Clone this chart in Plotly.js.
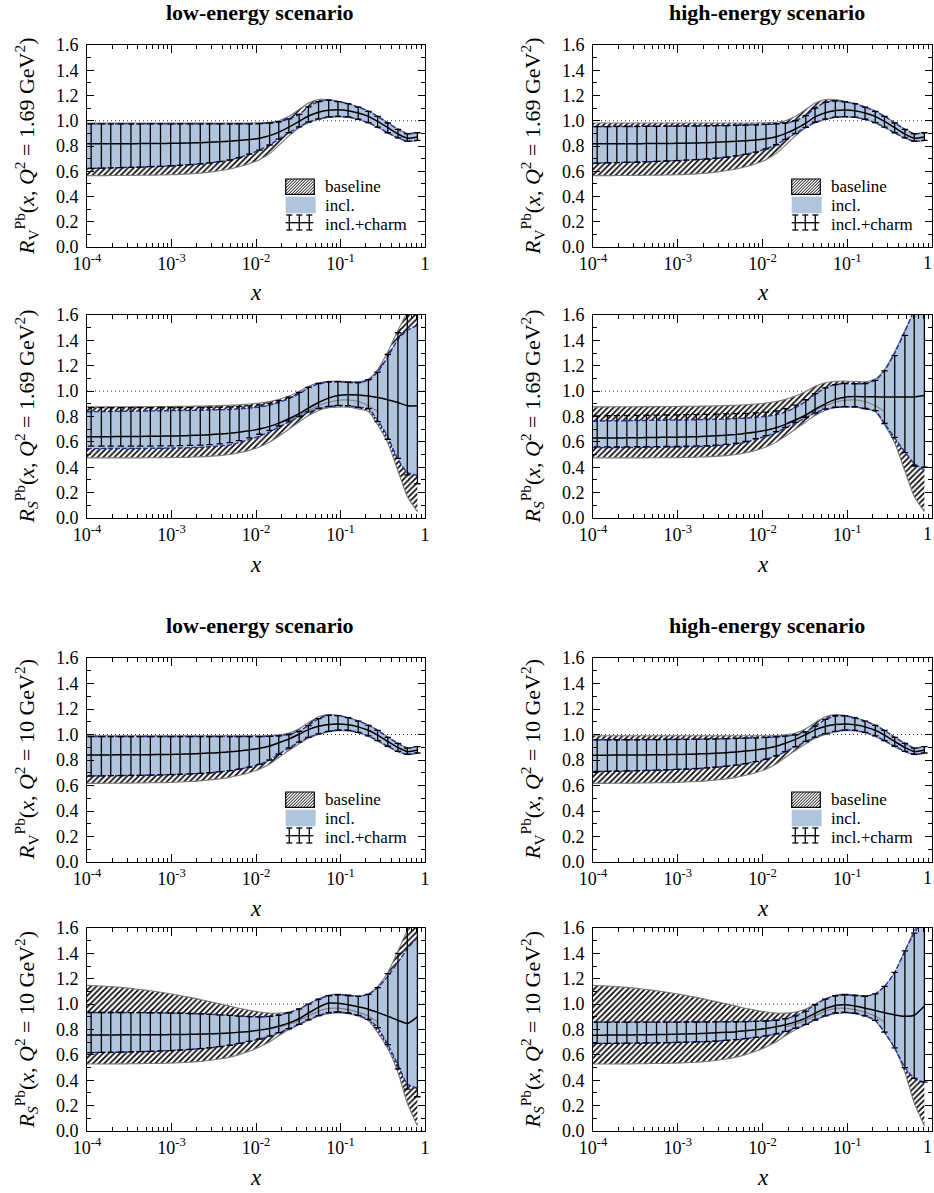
<!DOCTYPE html>
<html><head><meta charset="utf-8">
<script src="https://cdn.plot.ly/plotly-3.0.1.min.js"></script>
<style>html,body{margin:0;padding:0;background:#fff}#chart{width:934px;height:1193px}</style>
</head><body><div id="chart"></div>
<script>
// ---------------- DATA ----------------
const X = [1.00e-4,1.12e-4,1.48e-4,1.91e-4,2.51e-4,3.31e-4,4.27e-4,5.62e-4,7.41e-4,9.77e-4,1.26e-3,1.66e-3,2.19e-3,2.82e-3,3.72e-3,4.90e-3,6.31e-3,8.32e-3,1.10e-2,1.45e-2,1.86e-2,2.45e-2,3.24e-2,4.17e-2,5.50e-2,7.24e-2,9.33e-2,0.123,0.162,0.214,0.275,0.363,0.479,0.617,0.813];

const X_TICKS = [1e-4,1e-3,1e-2,1e-1,1];
const X_TICKTEXT = ['10<sup>-4</sup>','10<sup>-3</sup>','10<sup>-2</sup>','10<sup>-1</sup>','1'];
const X_TICKTEXT_RIGHT = ['10<sup>-4</sup>','10<sup>-3</sup>','10<sup>-2</sup>','10<sup>-1</sup>',''];
const TITLES = ['low-energy scenario','high-energy scenario'];
const LEGEND_LABELS = ['baseline','incl.','incl.+charm'];

// baseline bands
const V169_bLo = [0.565,0.565,0.565,0.566,0.566,0.567,0.568,0.569,0.570,0.572,0.575,0.579,0.585,0.593,0.604,0.618,0.636,0.660,0.692,0.740,0.805,0.880,0.945,0.985,1.010,1.026,1.031,1.027,1.010,0.983,0.948,0.903,0.863,0.836,0.843];
const V169_bHi = [0.982,0.982,0.982,0.982,0.982,0.982,0.982,0.982,0.982,0.982,0.982,0.982,0.982,0.982,0.982,0.982,0.982,0.982,0.984,0.988,1.000,1.035,1.090,1.140,1.168,1.168,1.155,1.137,1.110,1.077,1.037,0.984,0.934,0.899,0.907];
const V10_bLo = [0.617,0.617,0.617,0.618,0.618,0.619,0.620,0.621,0.622,0.624,0.627,0.631,0.636,0.643,0.652,0.664,0.680,0.700,0.728,0.768,0.820,0.875,0.928,0.970,1.000,1.020,1.030,1.028,1.012,0.985,0.948,0.904,0.864,0.841,0.851];
const V10_bHi = [0.990,0.990,0.990,0.990,0.990,0.990,0.990,0.990,0.990,0.990,0.990,0.990,0.990,0.990,0.990,0.990,0.990,0.990,0.990,0.992,0.997,1.012,1.045,1.095,1.140,1.156,1.150,1.134,1.107,1.074,1.034,0.980,0.932,0.895,0.907];
const S169_bLo = [0.474,0.474,0.474,0.474,0.474,0.474,0.474,0.475,0.475,0.476,0.477,0.479,0.482,0.486,0.492,0.501,0.514,0.533,0.560,0.598,0.645,0.700,0.757,0.807,0.848,0.870,0.874,0.873,0.860,0.840,0.735,0.590,0.370,0.170,0.050];
const S169_bHi = [0.876,0.876,0.876,0.877,0.877,0.877,0.878,0.878,0.879,0.879,0.880,0.881,0.882,0.884,0.886,0.889,0.893,0.898,0.906,0.918,0.935,0.962,0.998,1.038,1.066,1.078,1.080,1.076,1.074,1.095,1.170,1.310,1.480,1.620,1.750];
const S169_bMid = [null,null,null,null,null,null,null,null,null,null,null,null,null,null,null,null,null,null,null,null,0.745,0.775,0.810,0.848,0.885,0.912,0.928,0.930,0.918,0.885,0.840,null,null,null,null];
const S10_bLo = [0.528,0.528,0.528,0.529,0.529,0.530,0.531,0.532,0.533,0.535,0.538,0.542,0.548,0.556,0.567,0.582,0.602,0.628,0.662,0.703,0.750,0.798,0.838,0.872,0.905,0.925,0.930,0.925,0.905,0.868,0.775,0.650,0.460,0.220,0.040];
const S10_bHi = [1.148,1.147,1.143,1.138,1.132,1.124,1.115,1.105,1.094,1.082,1.068,1.053,1.037,1.020,1.002,0.984,0.967,0.951,0.938,0.930,0.929,0.938,0.962,1.000,1.042,1.070,1.079,1.073,1.065,1.082,1.140,1.250,1.420,1.580,1.720];
const S10_bMid = [null,null,null,null,null,null,null,null,null,null,null,null,null,null,null,null,null,null,null,null,0.820,0.842,0.870,0.908,0.943,0.966,0.968,0.957,0.937,0.905,0.860,null,null,null,null];

// incl. bands and central values (incl.+charm)
const LV169_iLo = [0.622,0.623,0.625,0.627,0.629,0.631,0.633,0.636,0.639,0.643,0.647,0.652,0.658,0.666,0.676,0.689,0.708,0.735,0.768,0.808,0.855,0.905,0.952,0.990,1.015,1.030,1.035,1.030,1.012,0.985,0.950,0.905,0.865,0.838,0.845];
const LV169_iHi = [0.975,0.975,0.975,0.975,0.975,0.975,0.975,0.975,0.975,0.975,0.975,0.975,0.975,0.975,0.975,0.975,0.975,0.975,0.977,0.982,0.992,1.015,1.050,1.110,1.152,1.163,1.152,1.135,1.108,1.075,1.035,0.982,0.932,0.897,0.905];
const LV169_mid = [0.817,0.817,0.817,0.818,0.818,0.818,0.819,0.819,0.820,0.821,0.822,0.824,0.826,0.829,0.833,0.838,0.844,0.851,0.862,0.882,0.910,0.950,0.995,1.038,1.068,1.083,1.087,1.080,1.062,1.035,0.995,0.945,0.895,0.862,0.872];

const HV169_iLo = [0.664,0.665,0.667,0.669,0.671,0.673,0.675,0.678,0.681,0.684,0.688,0.692,0.697,0.703,0.711,0.721,0.734,0.752,0.777,0.810,0.852,0.900,0.948,0.988,1.013,1.028,1.033,1.028,1.012,0.985,0.950,0.905,0.865,0.838,0.845];
const HV169_iHi = [0.954,0.954,0.954,0.955,0.955,0.955,0.956,0.956,0.957,0.957,0.958,0.959,0.960,0.961,0.962,0.964,0.966,0.968,0.971,0.975,0.982,1.000,1.040,1.100,1.145,1.157,1.150,1.135,1.108,1.075,1.035,0.982,0.932,0.897,0.905];
const HV169_mid = [0.817,0.817,0.817,0.818,0.818,0.818,0.819,0.819,0.820,0.821,0.822,0.824,0.826,0.829,0.833,0.837,0.842,0.848,0.857,0.873,0.898,0.935,0.982,1.030,1.063,1.081,1.086,1.080,1.062,1.035,0.995,0.945,0.895,0.862,0.872];

const LS169_iLo = [0.547,0.547,0.547,0.548,0.548,0.548,0.549,0.549,0.550,0.551,0.552,0.554,0.557,0.561,0.567,0.575,0.595,0.618,0.645,0.678,0.716,0.757,0.797,0.835,0.862,0.879,0.886,0.885,0.872,0.862,0.770,0.640,0.460,0.360,0.335];
const LS169_iHi = [0.837,0.838,0.839,0.840,0.841,0.842,0.843,0.844,0.845,0.846,0.847,0.848,0.849,0.851,0.853,0.856,0.860,0.866,0.875,0.889,0.910,0.940,0.980,1.025,1.058,1.072,1.073,1.068,1.066,1.085,1.150,1.270,1.410,1.480,1.520];
const LS169_mid = [0.640,0.640,0.641,0.641,0.642,0.642,0.643,0.644,0.645,0.646,0.648,0.650,0.653,0.657,0.662,0.668,0.676,0.687,0.702,0.722,0.748,0.782,0.822,0.866,0.910,0.945,0.965,0.972,0.970,0.962,0.950,0.932,0.910,0.885,0.885];
const LS169_eLo = [0.566,0.566,0.566,0.566,0.566,0.566,0.567,0.567,0.568,0.569,0.570,0.572,0.575,0.579,0.585,0.594,0.610,0.632,0.660,0.690,0.725,0.763,0.800,0.837,0.863,0.880,0.887,0.886,0.872,0.862,0.760,0.620,0.470,0.340,0.270];
const LS169_eHi = [0.870,0.870,0.870,0.870,0.870,0.870,0.870,0.870,0.871,0.871,0.871,0.872,0.872,0.873,0.874,0.876,0.879,0.884,0.892,0.905,0.925,0.953,0.990,1.030,1.060,1.073,1.075,1.070,1.068,1.090,1.150,1.290,1.460,1.650,1.750];

const HS169_iLo = [0.555,0.555,0.555,0.555,0.556,0.556,0.557,0.557,0.558,0.559,0.560,0.562,0.565,0.569,0.575,0.583,0.597,0.620,0.645,0.675,0.710,0.750,0.790,0.828,0.857,0.872,0.877,0.876,0.862,0.845,0.745,0.630,0.520,0.430,0.375];
const HS169_iHi = [0.763,0.764,0.765,0.766,0.767,0.768,0.769,0.770,0.771,0.772,0.773,0.774,0.776,0.778,0.780,0.783,0.787,0.793,0.801,0.814,0.835,0.870,0.920,0.975,1.025,1.052,1.060,1.058,1.060,1.085,1.160,1.300,1.470,1.640,1.800];
const HS169_mid = [0.630,0.630,0.631,0.631,0.632,0.633,0.634,0.635,0.636,0.637,0.639,0.641,0.644,0.648,0.653,0.659,0.667,0.678,0.692,0.712,0.738,0.772,0.812,0.857,0.900,0.935,0.952,0.957,0.956,0.955,0.954,0.953,0.953,0.954,0.965];
const HS169_eLo = [0.560,0.560,0.560,0.561,0.561,0.562,0.562,0.563,0.564,0.565,0.566,0.568,0.571,0.575,0.581,0.589,0.603,0.625,0.650,0.680,0.714,0.753,0.792,0.829,0.858,0.873,0.878,0.877,0.863,0.846,0.745,0.635,0.515,0.410,0.400];
const HS169_eHi = [0.805,0.805,0.806,0.807,0.808,0.809,0.810,0.811,0.812,0.813,0.814,0.815,0.816,0.818,0.820,0.822,0.825,0.829,0.835,0.845,0.862,0.890,0.932,0.980,1.025,1.052,1.060,1.058,1.060,1.085,1.160,1.280,1.440,1.620,1.750];

const LV10_iLo = [0.675,0.675,0.676,0.677,0.678,0.679,0.680,0.681,0.683,0.685,0.688,0.691,0.695,0.700,0.707,0.716,0.728,0.744,0.766,0.800,0.845,0.895,0.940,0.978,1.005,1.025,1.035,1.033,1.017,0.990,0.952,0.908,0.868,0.845,0.855];
const LV10_iHi = [0.984,0.984,0.984,0.984,0.984,0.984,0.984,0.984,0.984,0.984,0.984,0.984,0.984,0.984,0.984,0.984,0.984,0.984,0.984,0.986,0.990,1.000,1.025,1.070,1.125,1.150,1.148,1.132,1.105,1.072,1.032,0.978,0.930,0.893,0.905];
const LV10_mid = [0.840,0.840,0.840,0.840,0.841,0.841,0.842,0.842,0.843,0.844,0.846,0.848,0.851,0.854,0.858,0.864,0.871,0.880,0.892,0.910,0.935,0.965,1.002,1.038,1.064,1.079,1.083,1.077,1.060,1.033,0.995,0.945,0.898,0.866,0.878];

const HV10_iLo = [0.709,0.710,0.711,0.712,0.714,0.716,0.718,0.720,0.723,0.726,0.729,0.733,0.738,0.744,0.751,0.760,0.772,0.787,0.806,0.832,0.865,0.905,0.945,0.980,1.006,1.025,1.035,1.033,1.017,0.990,0.952,0.908,0.868,0.845,0.855];
const HV10_iHi = [0.958,0.958,0.958,0.959,0.959,0.959,0.960,0.960,0.961,0.961,0.962,0.963,0.964,0.965,0.967,0.969,0.971,0.974,0.977,0.981,0.987,0.997,1.020,1.065,1.118,1.147,1.146,1.131,1.105,1.072,1.032,0.978,0.930,0.893,0.905];
const HV10_mid = [0.838,0.838,0.838,0.839,0.839,0.840,0.840,0.841,0.842,0.843,0.845,0.847,0.850,0.853,0.857,0.863,0.870,0.879,0.891,0.908,0.932,0.962,0.999,1.036,1.063,1.078,1.083,1.077,1.060,1.033,0.995,0.945,0.898,0.866,0.878];

const LS10_iLo = [0.617,0.618,0.619,0.620,0.622,0.624,0.626,0.628,0.631,0.634,0.638,0.643,0.649,0.656,0.665,0.676,0.690,0.706,0.725,0.748,0.775,0.806,0.840,0.876,0.910,0.933,0.938,0.930,0.912,0.880,0.815,0.680,0.520,0.370,0.335];
const LS10_iHi = [0.934,0.934,0.934,0.934,0.934,0.933,0.933,0.932,0.931,0.930,0.928,0.926,0.923,0.920,0.916,0.911,0.906,0.902,0.900,0.903,0.913,0.932,0.962,1.000,1.040,1.066,1.074,1.068,1.061,1.077,1.130,1.220,1.330,1.435,1.525];
const LS10_mid = [0.757,0.757,0.757,0.757,0.758,0.758,0.758,0.759,0.759,0.760,0.761,0.762,0.764,0.766,0.769,0.773,0.778,0.785,0.795,0.808,0.826,0.852,0.885,0.930,0.975,1.008,1.006,0.995,0.980,0.960,0.935,0.905,0.872,0.848,0.900];
const LS10_eLo = [0.617,0.618,0.619,0.620,0.622,0.624,0.626,0.628,0.631,0.634,0.638,0.643,0.649,0.656,0.665,0.676,0.690,0.706,0.725,0.748,0.775,0.806,0.840,0.876,0.910,0.933,0.938,0.930,0.912,0.880,0.815,0.680,0.490,0.330,0.270];
const LS10_eHi = [0.934,0.934,0.934,0.934,0.934,0.933,0.933,0.932,0.931,0.930,0.928,0.926,0.923,0.920,0.916,0.911,0.906,0.902,0.900,0.903,0.913,0.932,0.962,1.000,1.040,1.066,1.074,1.068,1.061,1.077,1.130,1.240,1.400,1.620,1.750];

const HS10_iLo = [0.690,0.690,0.691,0.691,0.692,0.693,0.694,0.695,0.696,0.698,0.700,0.702,0.705,0.709,0.714,0.720,0.728,0.738,0.750,0.766,0.785,0.810,0.840,0.875,0.908,0.930,0.935,0.928,0.908,0.872,0.780,0.655,0.500,0.415,0.385];
const HS10_iHi = [0.858,0.858,0.858,0.858,0.858,0.858,0.858,0.858,0.858,0.858,0.859,0.859,0.859,0.860,0.860,0.861,0.862,0.864,0.867,0.873,0.885,0.908,0.945,0.995,1.040,1.066,1.074,1.068,1.062,1.080,1.140,1.250,1.420,1.560,1.680];
const HS10_mid = [0.755,0.755,0.756,0.756,0.757,0.758,0.759,0.760,0.761,0.763,0.765,0.767,0.770,0.774,0.778,0.783,0.790,0.798,0.808,0.821,0.838,0.860,0.890,0.928,0.965,0.990,0.995,0.985,0.968,0.950,0.932,0.915,0.905,0.912,0.985];

// ---------------- LAYOUT GEOMETRY ----------------
const W = 934, H = 1193;
const px = v => v / W, py = v => 1 - v / H;
const COLS = [[87, 425], [593, 932]];
const ROWS = [[45, 247], [315, 518], [658, 862], [928, 1131]];
const FONT = 'Liberation Serif, DejaVu Serif, serif';

const PANELS = [
  {r:0,c:0,f:'V',q:'1.69',bLo:V169_bLo,bHi:V169_bHi,bMid:null,iLo:LV169_iLo,iHi:LV169_iHi,mid:LV169_mid,eLo:LV169_iLo,eHi:LV169_iHi,leg:true},
  {r:0,c:1,f:'V',q:'1.69',bLo:V169_bLo,bHi:V169_bHi,bMid:null,iLo:HV169_iLo,iHi:HV169_iHi,mid:HV169_mid,eLo:HV169_iLo,eHi:HV169_iHi,leg:true},
  {r:1,c:0,f:'S',q:'1.69',bLo:S169_bLo,bHi:S169_bHi,bMid:S169_bMid,iLo:LS169_iLo,iHi:LS169_iHi,mid:LS169_mid,eLo:LS169_eLo,eHi:LS169_eHi,leg:false},
  {r:1,c:1,f:'S',q:'1.69',bLo:S169_bLo,bHi:S169_bHi,bMid:S169_bMid,iLo:HS169_iLo,iHi:HS169_iHi,mid:HS169_mid,eLo:HS169_eLo,eHi:HS169_eHi,leg:false},
  {r:2,c:0,f:'V',q:'10',bLo:V10_bLo,bHi:V10_bHi,bMid:null,iLo:LV10_iLo,iHi:LV10_iHi,mid:LV10_mid,eLo:LV10_iLo,eHi:LV10_iHi,leg:true},
  {r:2,c:1,f:'V',q:'10',bLo:V10_bLo,bHi:V10_bHi,bMid:null,iLo:HV10_iLo,iHi:HV10_iHi,mid:HV10_mid,eLo:HV10_iLo,eHi:HV10_iHi,leg:true},
  {r:3,c:0,f:'S',q:'10',bLo:S10_bLo,bHi:S10_bHi,bMid:S10_bMid,iLo:LS10_iLo,iHi:LS10_iHi,mid:LS10_mid,eLo:LS10_eLo,eHi:LS10_eHi,leg:false},
  {r:3,c:1,f:'S',q:'10',bLo:S10_bLo,bHi:S10_bHi,bMid:S10_bMid,iLo:HS10_iLo,iHi:HS10_iHi,mid:HS10_mid,eLo:HS10_iLo,eHi:HS10_iHi,leg:false}
];

// minor ticks on the log axis (2..9 of every decade)
const MINOR_X = [];
for (let d = -4; d < 0; d++) for (let m = 2; m <= 9; m++) MINOR_X.push(m * Math.pow(10, d));

const data = [], shapes = [], annotations = [];
const layout = {
  width: W, height: H, autosize: false,
  margin: {l: 0, r: 0, t: 0, b: 0, pad: 0},
  paper_bgcolor: '#fff', plot_bgcolor: '#fff',
  showlegend: false,
  font: {family: FONT, color: '#000'}
};

const SPL = {shape: 'spline', smoothing: 0.6};
const BLUE_EDGE = '#2230a0';

PANELS.forEach((p, k) => {
  const s = k === 0 ? '' : String(k + 1);
  const xa = 'x' + s, ya = 'y' + s;
  const common = {xaxis: xa, yaxis: ya, hoverinfo: 'skip', showlegend: false};

  // baseline band (hatched)
  data.push(Object.assign({x: X, y: p.bLo, mode: 'lines', line: Object.assign({color: '#7a7a7a', width: 1.1}, SPL)}, common));
  data.push(Object.assign({x: X, y: p.bHi, mode: 'lines', fill: 'tonexty', fillcolor: 'rgba(255,255,255,1)',
    fillpattern: {shape: '/', size: 4, solidity: 0.4, fgcolor: '#000', bgcolor: '#fff', fillmode: 'replace'},
    line: Object.assign({color: '#7a7a7a', width: 1.1}, SPL)}, common));
  // incl band fill
  data.push(Object.assign({x: X, y: p.iLo, mode: 'lines', line: Object.assign({color: 'rgba(0,0,0,0)', width: 0}, SPL)}, common));
  data.push(Object.assign({x: X, y: p.iHi, mode: 'lines', fill: 'tonexty', fillcolor: '#b0c4de',
    line: Object.assign({color: 'rgba(0,0,0,0)', width: 0}, SPL)}, common));
  // baseline central (grey)
  if (p.bMid) data.push(Object.assign({x: X, y: p.bMid, mode: 'lines', line: Object.assign({color: '#808080', width: 1.2}, SPL)}, common));
  // incl edges (dashed blue)
  data.push(Object.assign({x: X, y: p.iLo, mode: 'lines', line: Object.assign({color: BLUE_EDGE, width: 1.4, dash: '5px,2px'}, SPL)}, common));
  data.push(Object.assign({x: X, y: p.iHi, mode: 'lines', line: Object.assign({color: BLUE_EDGE, width: 1.4, dash: '5px,2px'}, SPL)}, common));
  // incl.+charm central line
  data.push(Object.assign({x: X, y: p.mid, mode: 'lines', line: Object.assign({color: '#000', width: 1.5}, SPL)}, common));
  // incl.+charm error bars
  const xe = X.slice(1), ye = p.mid.slice(1);
  data.push(Object.assign({x: xe, y: ye, mode: 'markers', marker: {size: 1, color: 'rgba(0,0,0,0)'},
    error_y: {type: 'data', symmetric: false,
      array: p.eHi.slice(1).map((v, i) => v - ye[i]),
      arrayminus: p.mid.slice(1).map((v, i) => v - p.eLo[i + 1]),
      color: '#000', thickness: 1.3, width: 3.2}}, common));

  const [c0, c1] = COLS[p.c], [r0, r1] = ROWS[p.r];
  layout['xaxis' + s] = {
    domain: [px(c0), px(c1)], anchor: ya, type: 'log', range: [-4, 0],
    tickmode: 'array', tickvals: X_TICKS, ticktext: p.c === 1 ? X_TICKTEXT_RIGHT : X_TICKTEXT,
    ticks: 'inside', ticklen: 8, tickwidth: 1, tickcolor: '#000',
    showline: true, linecolor: '#000', linewidth: 1, mirror: 'ticks',
    showgrid: false, zeroline: false, fixedrange: true, ticklabeloverflow: 'allow',
    tickfont: {family: FONT, size: 18, color: '#000'},
    minor: {ticks: 'inside', ticklen: 4, tickwidth: 1, tickcolor: '#000', tickmode: 'array', tickvals: MINOR_X, showgrid: false}
  };
  layout['yaxis' + s] = {
    domain: [py(r1), py(r0)], anchor: xa, range: [0, 1.6],
    tick0: 0, dtick: 0.2, tickformat: '.1f',
    ticks: 'inside', ticklen: 7, tickwidth: 1, tickcolor: '#000',
    showline: true, linecolor: '#000', linewidth: 1, mirror: 'ticks',
    showgrid: false, zeroline: false, fixedrange: true, ticklabelstandoff: 4,
    tickfont: {family: FONT, size: 18, color: '#000'},
    minor: {ticks: 'inside', ticklen: 4, tickwidth: 1, tickcolor: '#000', tick0: 0, dtick: 0.1, showgrid: false}
  };

  // last x tick label of the right column, kept inside the page
  if (p.c === 1) {
    annotations.push({xref: 'paper', yref: 'paper', x: 1, y: py(r1 + 16), text: X_TICKTEXT[4],
      showarrow: false, xanchor: 'right', yanchor: 'middle', font: {family: FONT, size: 18, color: '#000'}});
  }

  // dotted reference at 1
  shapes.push({type: 'line', xref: xa + ' domain', yref: ya, x0: 0, x1: 1, y0: 1, y1: 1, layer: 'below',
    line: {color: '#333', width: 1, dash: '1px,3px'}});

  // axis titles
  annotations.push({xref: 'paper', yref: 'paper', x: px((c0 + c1) / 2), y: py(r1 + 46), text: '<i>x</i>',
    showarrow: false, xanchor: 'center', yanchor: 'middle', font: {family: FONT, size: 23, color: '#000'}});
  const sub = p.f === 'V' ? 'V' : '<i>S</i>';
  annotations.push({xref: 'paper', yref: 'paper', x: px(c0 - 61), y: py((r0 + r1) / 2), textangle: -90,
    text: '<i>R</i><sub>' + sub + '</sub><sup>Pb</sup>(<i>x</i>, <i>Q</i><sup>2</sup> = ' + p.q + ' GeV<sup>2</sup>)',
    showarrow: false, xanchor: 'center', yanchor: 'middle', font: {family: FONT, size: 22, color: '#000'}});

  // column titles
  if (p.r === 0 || p.r === 2) {
    annotations.push({xref: 'paper', yref: 'paper', x: px((c0 + c1) / 2 + 4), y: py(r0 - 33), text: '<b>' + TITLES[p.c] + '</b>',
      showarrow: false, xanchor: 'center', yanchor: 'middle', font: {family: FONT, size: 22, color: '#000'}});
  }

  // legend (drawn by hand)
  if (p.leg) {
    const L = c0, T = r0;
    const hx0 = L + 198.7, hx1 = L + 227.3, hy0 = T + 134, hy1 = T + 149.3;
    let path = '';
    for (let cc = hx0 + hy0; cc <= hx1 + hy1; cc += 3) {
      let xa0 = Math.max(hx0, cc - hy1), xa1 = Math.min(hx1, cc - hy0);
      if (xa1 <= xa0) continue;
      path += 'M' + px(xa0).toFixed(5) + ',' + py(cc - xa0).toFixed(5) + 'L' + px(xa1).toFixed(5) + ',' + py(cc - xa1).toFixed(5);
    }
    shapes.push({type: 'path', xref: 'paper', yref: 'paper', path: path, line: {color: '#000', width: 1}});
    shapes.push({type: 'rect', xref: 'paper', yref: 'paper', x0: px(hx0), x1: px(hx1), y0: py(hy1), y1: py(hy0),
      line: {color: '#000', width: 1.2}});
    shapes.push({type: 'rect', xref: 'paper', yref: 'paper', x0: px(L + 198.7), x1: px(L + 228.7), y0: py(T + 168.3), y1: py(T + 151.7),
      fillcolor: '#b0c4de', line: {width: 0}});
    const ey0 = T + 170, ey1 = T + 185, ym = T + 177.7;
    shapes.push({type: 'line', xref: 'paper', yref: 'paper', x0: px(L + 198.7), x1: px(L + 226.3), y0: py(ym), y1: py(ym), line: {color: '#000', width: 1.3}});
    [202.3, 212.3, 222.3].forEach(bx => {
      const xx = L + bx;
      shapes.push({type: 'line', xref: 'paper', yref: 'paper', x0: px(xx), x1: px(xx), y0: py(ey0), y1: py(ey1), line: {color: '#000', width: 1.3}});
      shapes.push({type: 'line', xref: 'paper', yref: 'paper', x0: px(xx - 3), x1: px(xx + 3), y0: py(ey0), y1: py(ey0), line: {color: '#000', width: 1.3}});
      shapes.push({type: 'line', xref: 'paper', yref: 'paper', x0: px(xx - 3), x1: px(xx + 3), y0: py(ey1), y1: py(ey1), line: {color: '#000', width: 1.3}});
    });
    [141.7, 160, 179.5].forEach((ty, j) => {
      annotations.push({xref: 'paper', yref: 'paper', x: px(L + 236), y: py(T + ty), text: LEGEND_LABELS[j],
        showarrow: false, xanchor: 'left', yanchor: 'middle', font: {family: FONT, size: 17, color: '#000'}});
    });
  }
});

layout.shapes = shapes;
layout.annotations = annotations;

Plotly.newPlot('chart', data, layout, {staticPlot: true, displayModeBar: false});
</script>
</body></html>
